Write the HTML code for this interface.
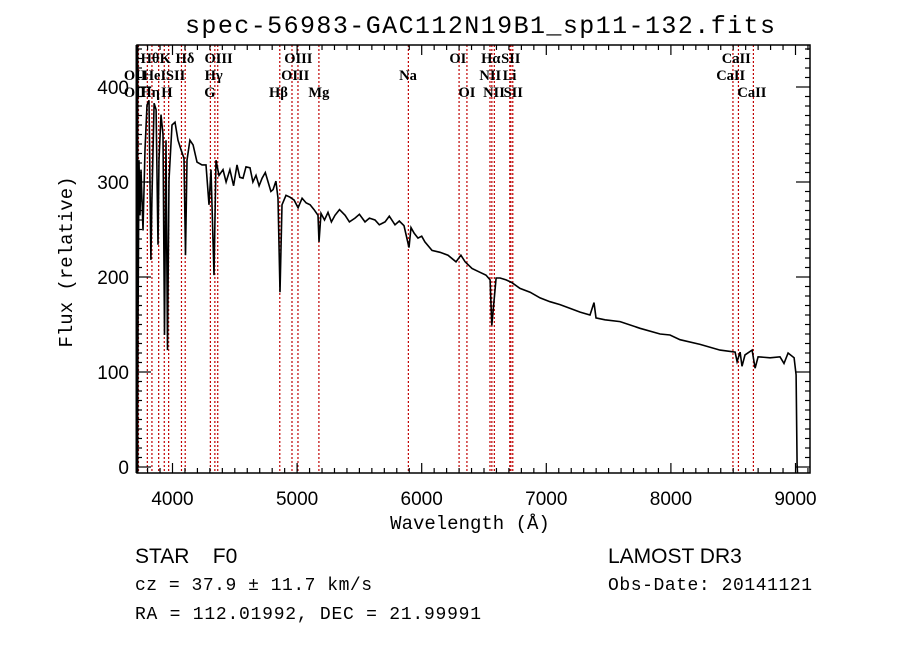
<!DOCTYPE html>
<html><head><meta charset="utf-8"><style>
body{margin:0;background:#fff;}
svg{display:block;}
</style></head><body>
<svg id="chart" width="900" height="649" viewBox="0 0 900 649" xmlns="http://www.w3.org/2000/svg">
<rect width="900" height="649" fill="#fff"/>
<text x="480" y="33" text-anchor="middle" font-family="Liberation Mono, monospace" font-size="25" textLength="590">spec-56983-GAC112N19B1_sp11-132.fits</text>
<g id="lines"></g>
<g id="spec"></g>
<g id="axes"></g>
<text x="470" y="529" text-anchor="middle" font-family="Liberation Mono, monospace" font-size="19">Wavelength (Å)</text>
<text transform="translate(72,262) rotate(-90)" text-anchor="middle" font-family="Liberation Mono, monospace" font-size="19">Flux (relative)</text>
<text x="135" y="563" font-family="Liberation Sans, sans-serif" font-size="21">STAR&#160;&#160;&#160;&#160;F0</text>
<text x="608" y="563" font-family="Liberation Sans, sans-serif" font-size="21">LAMOST DR3</text>
<text x="135" y="590" font-family="Liberation Mono, monospace" font-size="18" textLength="237">cz = 37.9 ± 11.7 km/s</text>
<text x="608" y="590" font-family="Liberation Mono, monospace" font-size="18" textLength="204">Obs-Date: 20141121</text>
<text x="135" y="619" font-family="Liberation Mono, monospace" font-size="18" textLength="346">RA = 112.01992, DEC =  21.99991</text>
</svg>
<script>
const wave = [3719,3723,3731,3739,3747,3763,3779,3795,3811,3827,3835,3852,3868,3884,3892,3908,3924,3936,3948,3960,3972,3996,4020,4044,4068,4092,4104,4116,4140,4165,4197,4237,4269,4293,4309,4333,4349,4373,4405,4430,4461,4490,4518,4540,4566,4590,4622,4645,4670,4695,4719,4745,4767,4790,4807,4830,4847,4863,4879,4911,4943,4976,5008,5040,5072,5104,5136,5168,5176,5192,5220,5248,5275,5304,5340,5385,5420,5465,5500,5545,5580,5625,5660,5706,5740,5786,5820,5858,5898,5914,5940,5970,6000,6026,6083,6147,6211,6275,6315,6348,6404,6468,6516,6549,6563,6597,6629,6677,6725,6789,6870,6950,7030,7110,7191,7271,7351,7383,7399,7471,7592,7752,7913,7993,8073,8234,8394,8515,8531,8555,8571,8595,8652,8676,8700,8796,8876,8908,8941,8989,9005,9013,9016];
const flux = [0,149,323,265,313,249,334,381,386,218,281,383,376,234,323,371,350,139,344,123,302,360,363,344,334,325,223,323,344,339,321,318,318,276,313,202,323,307,313,300,313,296,318,305,304,316,315,300,307,296,304,310,300,290,292,301,283,184,276,286,284,281,273,283,278,276,271,265,237,267,260,268,258,265,271,265,258,262,266,258,262,260,255,258,264,255,259,254,231,252,246,241,243,237,228,226,223,216,223,216,209,205,202,197,149,199,199,197,194,188,184,178,174,171,167,163,160,173,157,155,153,146,140,139,134,129,123,121,111,121,106,118,123,104,116,115,116,109,120,115,97,2,-6];
const lineWaves = [3727,3798,3835,3889,3934,3969,4072,4102,4304,4340,4363,4861,4959,5007,5175,5893,6300,6363,6548,6563,6583,6707,6716,6731,8498,8542,8662];
const labelText = ["Hθ","K","Hδ","OIII","OIII","OI","Hα","SII","CaII","OII","HeI","SII","Hγ","OIII","Na","NII","Li","CaII","OII","Hη","H","G","Hβ","Mg","OI","NII","SII","CaII"];
const labelWave = [3820,3942,4100,4370,5010,6290,6555,6715,8525,3700,3855,4025,4330,4985,5890,6550,6705,8480,3700,3820,3955,4300,4850,5175,6363,6580,6735,8650];
const labelRow = [0,0,0,0,0,0,0,0,0,1,1,1,1,1,1,1,1,1,2,2,2,2,2,2,2,2,2,2];
const xTicks = [4000,5000,6000,7000,8000,9000];
const yTicks = [0,100,200,300,400];

const NS="http://www.w3.org/2000/svg";
const L=137,R=810,T=45,B=473;
function xs(w){return 172.5+(w-4000)*0.1246;}
function ys(f){return 467-f*0.95;}
function mk(tag,attrs,parent){const e=document.createElementNS(NS,tag);for(const k in attrs)e.setAttribute(k,attrs[k]);parent.appendChild(e);return e;}

const gl=document.getElementById('lines');
lineWaves.forEach(w=>{
  const l=mk('line',{x1:xs(w),x2:xs(w),y1:T,y2:B,stroke:'#c00000','stroke-width':1.2,'stroke-dasharray':'2,2'},gl);
  
  
});
labelText.forEach((t,i)=>{
  const e=mk('text',{x:xs(labelWave[i]),y:63+labelRow[i]*17,'text-anchor':'middle','font-family':'Liberation Serif, serif','font-size':14.5,'font-weight':'bold'},gl);
  e.textContent=t;
  
  
});

const gs=document.getElementById('spec');
const pts=wave.map((w,i)=>xs(w).toFixed(1)+','+Math.min(B,ys(flux[i])).toFixed(1)).join(' ');
const pl=mk('polyline',{points:pts,fill:'none',stroke:'#000','stroke-width':1.6,'stroke-linejoin':'miter'},gs);



const ga=document.getElementById('axes');
const fr=mk('rect',{x:L,y:T,width:R-L,height:B-T,fill:'none',stroke:'#000','stroke-width':1.5},ga);


mk('line',{x1:L,x2:L,y1:T,y2:B,stroke:'#000','stroke-width':3},ga);
for(let w=3800;w<=9100;w+=100){
  const x=xs(w); if(x<L||x>R)continue;
  const len=(w%1000===0)?10:5;
  mk('line',{x1:x,x2:x,y1:B,y2:B-len,stroke:'#000','stroke-width':1.2},ga);
  mk('line',{x1:x,x2:x,y1:T,y2:T+len,stroke:'#000','stroke-width':1.2},ga);
}
xTicks.forEach(w=>{
  const e=mk('text',{x:xs(w),y:505,'text-anchor':'middle','font-family':'Liberation Sans, sans-serif','font-size':19},ga);
  e.textContent=w;
  
  
});
for(let f=0;f<=440;f+=10){
  const y=ys(f); if(y<T)continue;
  const len=(f%100===0)?14:5;
  mk('line',{x1:L,x2:L+len,y1:y,y2:y,stroke:'#000','stroke-width':1.2},ga);
  mk('line',{x1:R,x2:R-len,y1:y,y2:y,stroke:'#000','stroke-width':1.2},ga);
}
yTicks.forEach(f=>{
  const e=mk('text',{x:129,y:ys(f)+7,'text-anchor':'end','font-family':'Liberation Sans, sans-serif','font-size':19},ga);
  e.textContent=f;
  
  
});
</script>
</body></html>
